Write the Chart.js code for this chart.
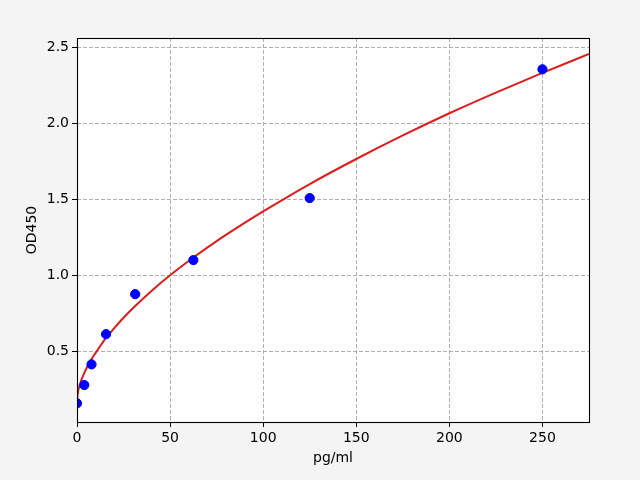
<!DOCTYPE html>
<html>
<head>
<meta charset="utf-8">
<script src="https://cdn.jsdelivr.net/npm/chart.js@4.4.1/dist/chart.umd.min.js"></script>
<style>
  html, body { margin: 0; padding: 0; background: #f4f4f4; }
  #wrap { width: 640px; height: 480px; }
</style>
</head>
<body>
<div id="wrap"><canvas id="stdCurve" width="640" height="480"></canvas></div>
<script>
// standard points (concentration, OD)
const concPoints = [0, 3.9, 7.8, 15.6, 31.25, 62.5, 125, 250];
const odPoints = [0.158, 0.278, 0.414, 0.613, 0.876, 1.100, 1.508, 2.355];

// fitted curve
const fitX = [0, 0.5, 1, 2, 4, 6, 8, 10, 12.5, 15, 20, 25, 31.25, 40, 50, 62.5, 75, 87.5, 100, 125, 150, 175, 200, 225, 250, 275];
const fitY = [0.18, 0.23, 0.258, 0.30, 0.36, 0.41, 0.453, 0.49, 0.535, 0.578, 0.653, 0.721, 0.798, 0.897, 1.00, 1.117, 1.225, 1.325, 1.42, 1.60, 1.765, 1.92, 2.066, 2.202, 2.332, 2.456];

const xTicks = [0, 50, 100, 150, 200, 250];
const yTicks = [0.5, 1.0, 1.5, 2.0, 2.5];

const FONT = { family: "'DejaVu Sans', sans-serif", size: 14 };

// white axes face + full box frame like matplotlib
const frame = {
    id: 'frame',
    beforeDraw(chart) {
        const { ctx, chartArea: a } = chart;
        ctx.save();
        ctx.fillStyle = '#f4f4f4';
        ctx.fillRect(0, 0, chart.width, chart.height);
        ctx.fillStyle = '#ffffff';
        ctx.fillRect(a.left, a.top, a.right - a.left, a.bottom - a.top);
        ctx.restore();
    },
    afterDraw(chart) {
        const { ctx, chartArea: a } = chart;
        ctx.save();
        ctx.strokeStyle = '#000';
        ctx.lineWidth = 1.1;
        ctx.strokeRect(Math.round(a.left) + 0.5, Math.round(a.top) + 0.5, Math.round(a.right - a.left), Math.round(a.bottom - a.top));
        ctx.restore();
    }
};

new Chart(document.getElementById('stdCurve'), {
    type: 'scatter',
    data: {
        datasets: [
            {
                label: 'standard',
                data: concPoints.map((c, i) => ({ x: c, y: odPoints[i] })),
                backgroundColor: '#0000ff',
                borderColor: '#0000ff',
                pointRadius: 4.6,
                pointHoverRadius: 4.6,
                order: 0,
                clip: 0
            },
            {
                label: 'fit',
                type: 'line',
                data: fitX.map((c, i) => ({ x: c, y: fitY[i] })),
                borderColor: '#e01b1b',
                borderWidth: 2,
                pointRadius: 0,
                fill: false,
                cubicInterpolationMode: 'monotone',
                order: 1,
                clip: 0
            }
        ]
    },
    options: {
        responsive: false,
        animation: false,
        events: [],
        layout: { padding: { left: 0, top: 38, right: 51, bottom: 0 } },
        plugins: { legend: { display: false }, tooltip: { enabled: false } },
        scales: {
            x: {
                type: 'linear',
                min: 0,
                max: 275,
                afterBuildTicks: s => { s.ticks = xTicks.map(v => ({ value: v })); },
                afterFit: s => { s.height = 58; },
                ticks: { color: '#000', font: FONT, padding: 3, maxRotation: 0, callback: v => String(v) },
                grid: { color: '#b0b0b0', lineWidth: 1, tickColor: '#000', tickLength: 5, tickWidth: 1 },
                border: { display: false, dash: [4, 2] },
                title: { display: true, text: 'pg/ml', color: '#000', font: FONT, padding: { top: 0, bottom: 13 } }
            },
            y: {
                type: 'linear',
                min: 0.035,
                max: 2.561,
                afterBuildTicks: s => { s.ticks = yTicks.map(v => ({ value: v })); },
                afterFit: s => { s.width = 77; },
                ticks: { color: '#000', font: FONT, padding: 3, callback: v => v.toFixed(1) },
                grid: { color: '#b0b0b0', lineWidth: 1, tickColor: '#000', tickLength: 5, tickWidth: 1 },
                border: { display: false, dash: [4, 2] },
                title: { display: true, text: 'OD450', color: '#000', font: FONT, padding: { top: 24, bottom: 0 } }
            }
        }
    },
    plugins: [frame]
});
</script>
</body>
</html>
